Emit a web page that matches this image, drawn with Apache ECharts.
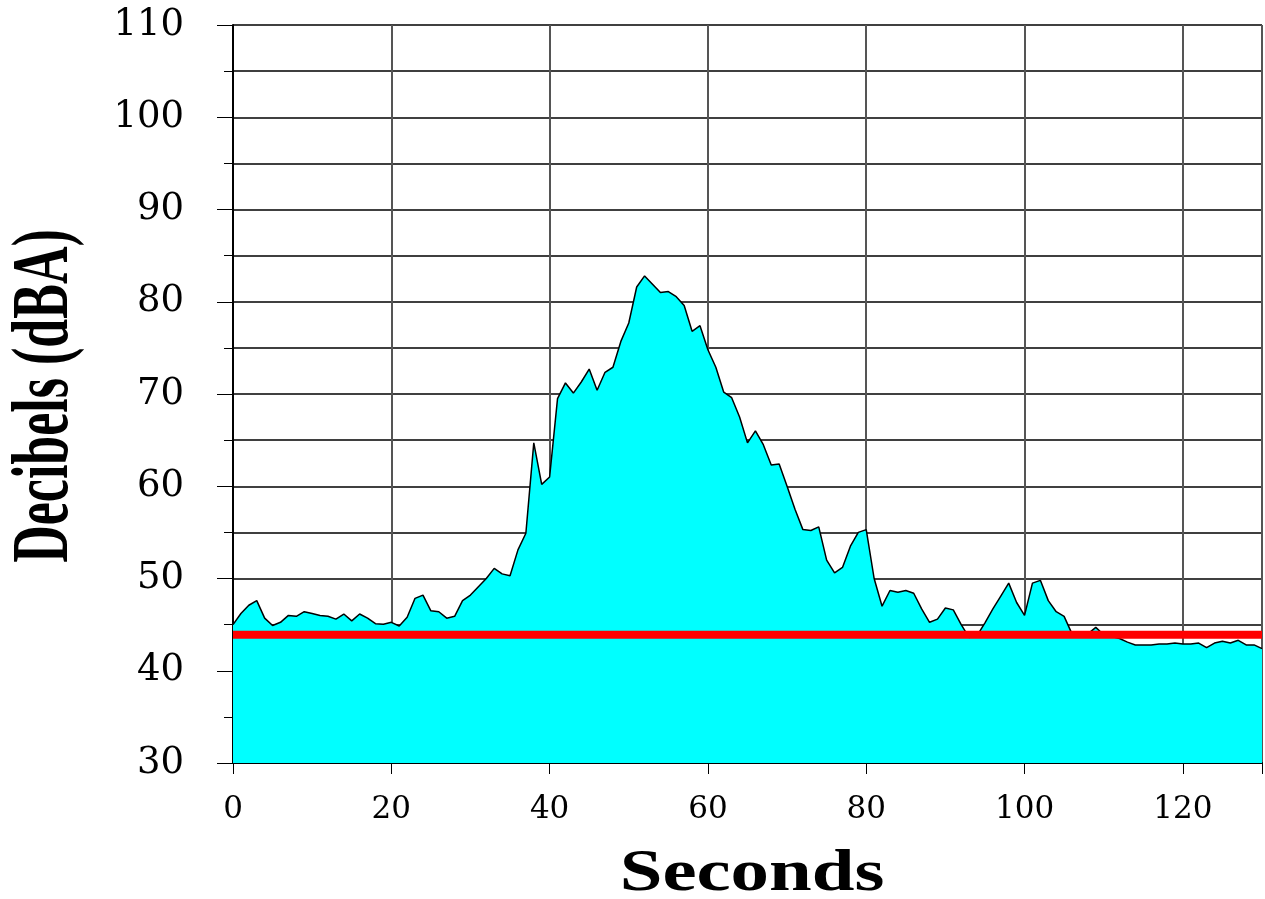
<!DOCTYPE html>
<html>
<head>
<meta charset="utf-8">
<title>Decibels</title>
<script src="https://cdn.jsdelivr.net/npm/echarts@6/dist/echarts.min.js"></script>
<style>
    html, body { margin: 0; padding: 0; background: #fff; }
    #chart { width: 1265px; height: 899px; }
</style>
</head>
<body>
<div id="chart"></div>
<script>
// sound level, one reading per second
var seconds = [];
for (var i = 0; i <= 130; i++) seconds.push(i);
var decibels = [
    45.0, 46.2, 47.1, 47.6, 45.7, 44.9, 45.25, 46.0, 45.9, 46.4,
    46.2, 46.0, 45.9, 45.6, 46.15, 45.4, 46.15, 45.7, 45.1, 45.05,
    45.25, 44.85, 45.8, 47.85, 48.2, 46.5, 46.4, 45.7, 45.9, 47.6,
    48.2, 49.1, 50.0, 51.1, 50.5, 50.3, 53.1, 54.9, 64.7, 60.2,
    61.0, 69.5, 71.2, 70.1, 71.3, 72.7, 70.4, 72.35, 72.9, 75.7,
    77.7, 81.6, 82.8, 81.9, 81.0, 81.1, 80.55, 79.6, 76.8, 77.4,
    74.8, 72.9, 70.2, 69.6, 67.5, 64.7, 66.0, 64.5, 62.3, 62.4,
    60.0, 57.5, 55.3, 55.2, 55.6, 52.0, 50.6, 51.2, 53.5, 55.0,
    55.3, 50.0, 47.0, 48.7, 48.5, 48.7, 48.4, 46.7, 45.25, 45.6,
    46.8, 46.6, 45.0, 43.6, 43.8, 45.2, 46.7, 48.1, 49.5, 47.4,
    46.0, 49.5, 49.8, 47.6, 46.4, 45.9, 44.0, 43.8, 44.0, 44.7,
    43.9, 43.7, 43.5, 43.1, 42.8, 42.8, 42.8, 42.9, 42.9, 43.0,
    42.9, 42.9, 43.0, 42.5, 43.0, 43.2, 43.0, 43.3, 42.8, 42.8,
    42.4
];
var limitLevel = 43.9;
var limitStart = 0, limitEnd = 130;

(function () {
    var chart = echarts.init(document.getElementById('chart'));

    var areaData = [];
    for (var k = 0; k < seconds.length; k++) {
        areaData.push([seconds[k], decibels[k]]);
    }

    var option = {
        backgroundColor: '#fff',
        animation: false,
        grid: {
            left: 233,
            top: 25,
            right: 2,
            bottom: 136
        },
        xAxis: {
            type: 'value',
            min: 0,
            max: 130,
            interval: 20,
            axisLine: { show: true, lineStyle: { color: '#000', width: 2 } },
            axisTick: { show: true, inside: false, length: 11, lineStyle: { color: '#000', width: 1 } },
            axisLabel: {
                margin: 31,
                color: '#000',
                fontFamily: 'DejaVu Serif',
                fontSize: 31,
                formatter: function (v) { return v > 120 ? '' : String(v); }
            },
            splitLine: { show: true, lineStyle: { color: '#555', width: 2 } }
        },
        yAxis: {
            type: 'value',
            min: 30,
            max: 110,
            interval: 10,
            axisLine: { show: true, lineStyle: { color: '#000', width: 2 } },
            axisTick: { show: true, inside: false, length: 16, lineStyle: { color: '#000', width: 1 } },
            minorTick: { show: true, splitNumber: 2, length: 9, lineStyle: { color: '#000', width: 1 } },
            axisLabel: {
                margin: 49,
                color: '#000',
                fontFamily: 'DejaVu Serif',
                fontSize: 37
            },
            splitLine: { show: true, lineStyle: { color: '#000', width: 1.5 } },
            minorSplitLine: { show: true, lineStyle: { color: '#000', width: 1.5 } }
        },
        graphic: [
            {
                type: 'text',
                x: 46,
                y: 396,
                rotation: Math.PI / 2,
                scaleX: 0.65,
                style: {
                    text: 'Decibels (dBA)',
                    font: 'bold 80px "Liberation Serif"',
                    fill: '#000',
                    align: 'center',
                    verticalAlign: 'middle',
                    textAlign: 'center',
                    textVerticalAlign: 'middle'
                }
            },
            {
                type: 'text',
                x: 752,
                y: 874,
                scaleX: 1.28,
                style: {
                    text: 'Seconds',
                    font: 'bold 60px "Liberation Serif"',
                    fill: '#000',
                    align: 'center',
                    verticalAlign: 'middle',
                    textAlign: 'center',
                    textVerticalAlign: 'middle'
                }
            }
        ],
        series: [
            {
                name: 'Level',
                type: 'line',
                data: areaData,
                symbol: 'none',
                lineStyle: { color: '#000', width: 1.5 },
                areaStyle: { color: '#00ffff', opacity: 1 },
                z: 2
            },
            {
                name: 'Limit',
                type: 'line',
                data: [[limitStart, limitLevel], [limitEnd, limitLevel]],
                symbol: 'none',
                lineStyle: { color: '#ff0000', width: 8 },
                z: 3
            }
        ]
    };
    chart.setOption(option);
})();
</script>
</body>
</html>
